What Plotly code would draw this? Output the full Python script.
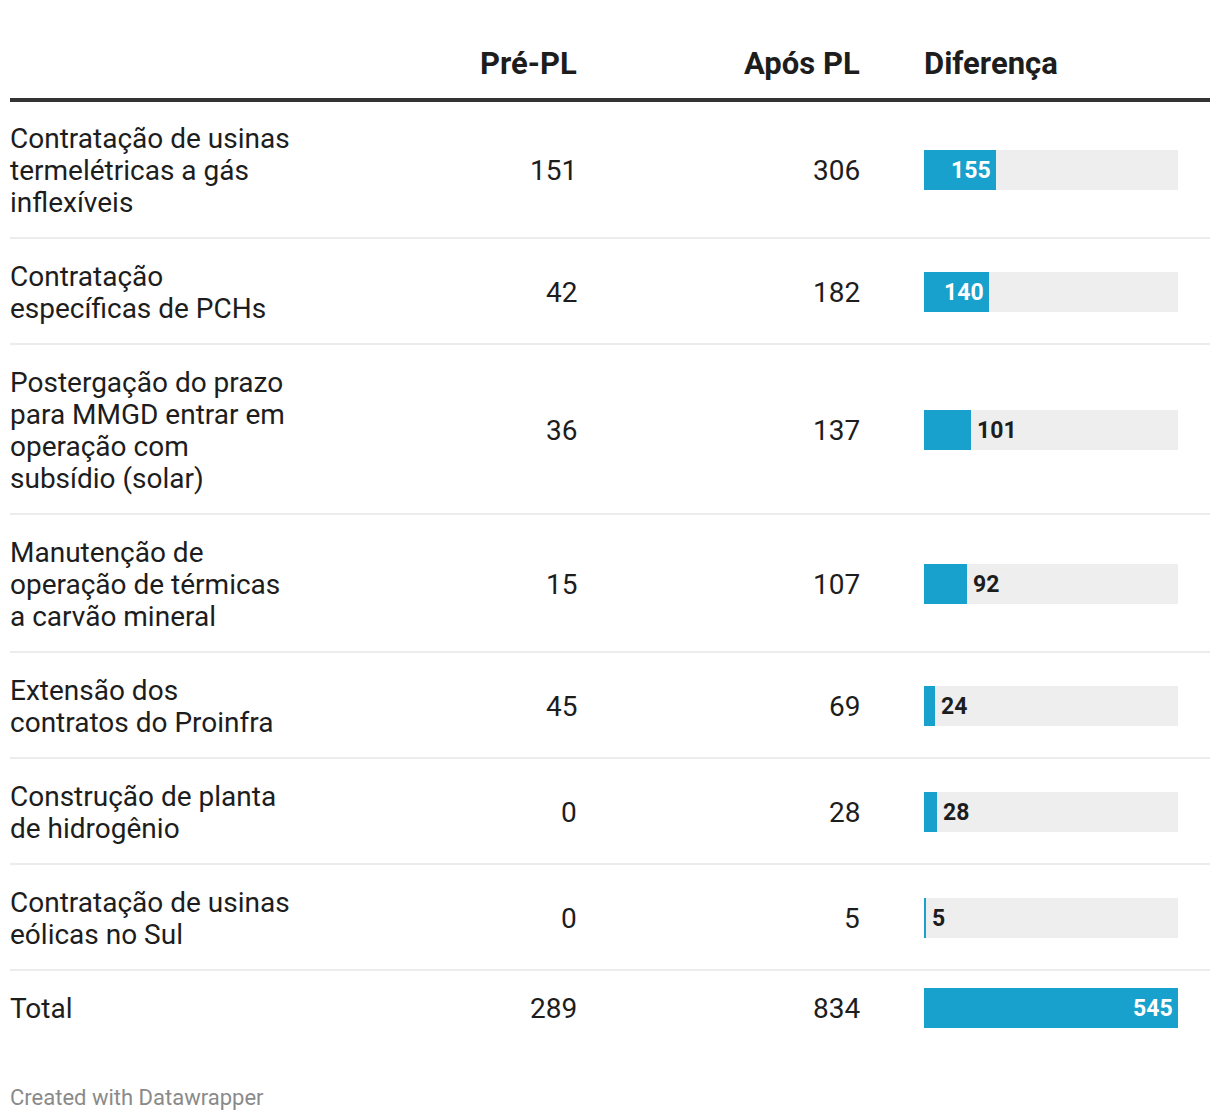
import plotly.graph_objects as go

# ---------------- data ----------------
categories = [
    "Contratação de usinas<br>termelétricas a gás<br>inflexíveis",
    "Contratação<br>específicas de PCHs",
    "Postergação do prazo<br>para MMGD entrar em<br>operação com<br>subsídio (solar)",
    "Manutenção de<br>operação de térmicas<br>a carvão mineral",
    "Extensão dos<br>contratos do Proinfra",
    "Construção de planta<br>de hidrogênio",
    "Contratação de usinas<br>eólicas no Sul",
    "Total",
]
pre_pl = [151, 42, 36, 15, 45, 0, 0, 289]
apos_pl = [306, 182, 137, 107, 69, 28, 5, 834]
diferenca = [155, 140, 101, 92, 24, 28, 5, 545]
headers = ["Pré-PL", "Após PL", "Diferença"]
footer = "Created with Datawrapper"

# ---------------- layout constants ----------------
W, H = 1220, 1120
FONT = "Roboto"
TXT = "#1d1d1d"
BLUE = "#18a1cd"
BG = "#eeeeee"
LINE_H = 32
PAD = 42
TOP = 101
LEFT = 10
RIGHT = 1210
COL_PRE = 577
COL_APOS = 860
BAR_X0 = 924
BAR_X1 = 1178
BODY = 28
HEAD = 31

# row geometry from number of text lines
rows = []
y = TOP
for c in categories:
    n = c.count("<br>") + 1
    h = LINE_H * n + PAD
    rows.append((y, y + h, y + h / 2, n))
    y += h
centers = [r[2] for r in rows]

fig = go.Figure()

maxv = max(diferenca)
# background bars
fig.add_trace(go.Bar(
    x=[maxv] * len(diferenca), y=centers, orientation="h",
    xaxis="x2", yaxis="y", width=40, marker=dict(color=BG, line=dict(width=0)),
    hoverinfo="skip", showlegend=False,
))
# value bars
fig.add_trace(go.Bar(
    x=diferenca, y=centers, orientation="h",
    xaxis="x2", yaxis="y", width=40, marker=dict(color=BLUE, line=dict(width=0)),
    hoverinfo="skip", showlegend=False,
))

def ann(x, y, text, anchor, size, color=TXT, xref="x", xshift=0):
    return dict(x=x, y=y, text=text, xanchor=anchor, yanchor="middle", xref=xref, yref="y",
                showarrow=False, xshift=xshift, borderpad=0, borderwidth=0,
                font=dict(family=FONT, size=size, color=color))

annotations = []
# headers
annotations.append(ann(COL_PRE, 63, f"<b>{headers[0]}</b>", "right", HEAD))
annotations.append(ann(COL_APOS, 63, f"<b>{headers[1]}</b>", "right", HEAD))
annotations.append(ann(BAR_X0, 63, f"<b>{headers[2]}</b>", "left", HEAD))

bar_px = BAR_X1 - BAR_X0
for i, (cat, (y0, y1, yc, n)) in enumerate(zip(categories, rows)):
    lines = cat.split("<br>")
    for j, ln in enumerate(lines):
        ly = yc + (j - (n - 1) / 2) * LINE_H
        annotations.append(ann(LEFT, ly, ln, "left", BODY))
    annotations.append(ann(COL_PRE, yc, str(pre_pl[i]), "right", BODY))
    annotations.append(ann(COL_APOS, yc, str(apos_pl[i]), "right", BODY))
    v = diferenca[i]
    inside = v / maxv * bar_px > 60
    annotations.append(ann(v, yc, f"<b>{v}</b>", "right" if inside else "left", 23,
                           color="white" if inside else TXT, xref="x2",
                           xshift=-5 if inside else 6))

annotations.append(ann(LEFT, 1097, footer, "left", 22, color="#8a8a8a"))

shapes = [dict(type="line", x0=LEFT, x1=RIGHT, y0=TOP - 1, y1=TOP - 1, xref="x", yref="y",
               line=dict(color="#333333", width=4), layer="above")]
for (y0, y1, yc, n) in rows[:-1]:
    shapes.append(dict(type="line", x0=LEFT, x1=RIGHT, y0=y1 - 1, y1=y1 - 1, xref="x", yref="y",
                       line=dict(color="#ececec", width=2), layer="above"))

fig.update_layout(
    width=W, height=H, margin=dict(l=0, r=0, t=0, b=0),
    paper_bgcolor="white", plot_bgcolor="rgba(0,0,0,0)",
    barmode="overlay", bargap=0,
    xaxis=dict(range=[0, W], domain=[0, 1], visible=False, fixedrange=True),
    xaxis2=dict(range=[0, maxv], domain=[BAR_X0 / W, BAR_X1 / W], anchor="y",
                visible=False, fixedrange=True),
    yaxis=dict(range=[H, 0], domain=[0, 1], visible=False, fixedrange=True),
    annotations=annotations, shapes=shapes,
    font=dict(family=FONT, color=TXT),
)

fig.write_html("out.html", config={"displayModeBar": False, "staticPlot": True},
               post_script="document.body.style.margin='0';document.body.style.overflow='hidden';")
